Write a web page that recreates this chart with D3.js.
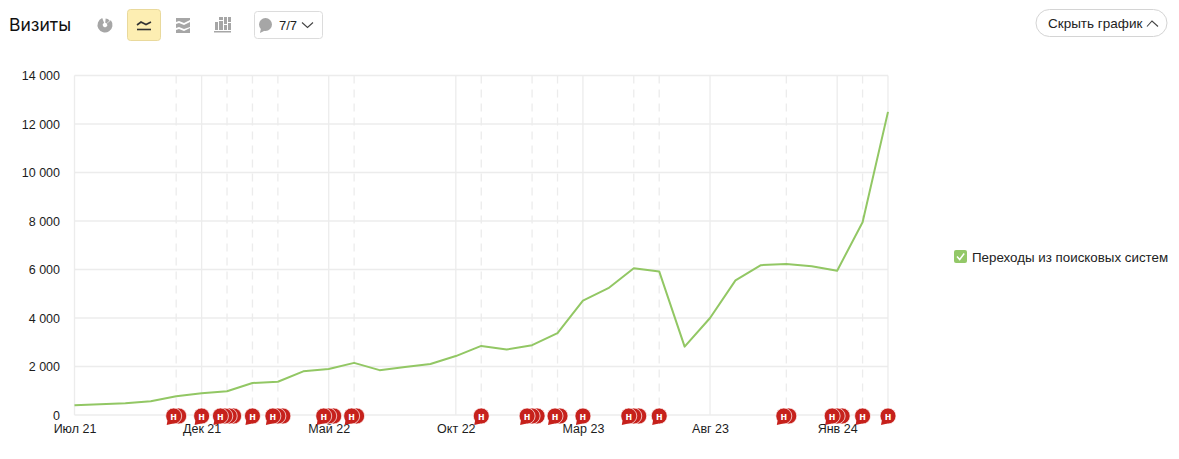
<!DOCTYPE html>
<html>
<head>
<meta charset="utf-8">
<script src="https://cdn.jsdelivr.net/npm/d3@7"></script>
<style>
  html, body { margin: 0; padding: 0; background: #fff; }
  svg { display: block; font-family: "Liberation Sans", Arial, sans-serif; }
  .axis .domain { display: none; }
  .axis text { font-size: 12.5px; fill: #1c1c1c; }
</style>
</head>
<body>
<svg id="chart" width="1179" height="459"></svg>
<script>
// monthly data, Jul 21 .. Mar 24
const months = ["Июл 21","Авг 21","Сен 21","Окт 21","Ноя 21","Дек 21","Янв 22","Фев 22","Мар 22","Апр 22","Май 22",
  "Июн 22","Июл 22","Авг 22","Сен 22","Окт 22","Ноя 22","Дек 22","Янв 23","Фев 23","Мар 23","Апр 23","Май 23",
  "Июн 23","Июл 23","Авг 23","Сен 23","Окт 23","Ноя 23","Дек 23","Янв 24","Фев 24","Мар 24"];
const visits = [400,440,480,570,770,900,980,1320,1370,1800,1900,2150,1850,1980,2100,2430,2850,2700,2880,3380,
  4720,5230,6050,5920,2820,4000,5550,6180,6230,6130,5950,7950,12500];
const yTicks = [0,2000,4000,6000,8000,10000,12000,14000];
const xLabels = ["Июл 21","Дек 21","Май 22","Окт 22","Мар 23","Авг 23","Янв 24"];

// notes: month label and how many bubbles are stacked there
const noteMonths = ["Ноя 21","Дек 21","Янв 22","Фев 22","Мар 22","Май 22","Июн 22","Ноя 22","Янв 23","Фев 23",
  "Мар 23","Май 23","Июн 23","Ноя 23","Янв 24","Фев 24","Мар 24"];
const noteCounts = [2,1,4,1,3,3,2,1,3,2,1,3,1,2,3,1,1];

const svg = d3.select("#chart");
const left = 74.5, right = 888, top_ = 75.5, bottom = 415;

const x = d3.scalePoint().domain(months).range([left, right]);
const y = d3.scaleLinear().domain([0, 14000]).range([bottom, top_]);
const fmt = d3.formatLocale({decimal: ",", thousands: " ", grouping: [3], currency: ["", ""]}).format(",d");
const gridColor = "#ececec";

// horizontal grid
svg.append("g").selectAll("line").data(yTicks).enter().append("line")
  .attr("x1", left).attr("x2", right)
  .attr("y1", d => y(d)).attr("y2", d => y(d))
  .attr("stroke", gridColor).attr("stroke-width", 1.3);

// vertical grid: solid for labelled months and the edges, dashed for months with notes
const solid = xLabels.concat([months[months.length - 1]]);
svg.append("g").selectAll("line").data(solid).enter().append("line")
  .attr("x1", d => x(d)).attr("x2", d => x(d))
  .attr("y1", top_).attr("y2", bottom)
  .attr("stroke", gridColor).attr("stroke-width", 1.3);
svg.append("g").selectAll("line").data(noteMonths.filter(m => !solid.includes(m))).enter().append("line")
  .attr("x1", d => x(d)).attr("x2", d => x(d))
  .attr("y1", top_).attr("y2", bottom)
  .attr("stroke", gridColor).attr("stroke-width", 1.3).attr("stroke-dasharray", "8,6");

// axes
svg.append("g").attr("class", "axis")
  .attr("transform", `translate(${left - 14.5},0)`)
  .call(d3.axisLeft(y).tickValues(yTicks).tickSize(0).tickPadding(0).tickFormat(fmt));
svg.append("g").attr("class", "axis")
  .attr("transform", `translate(0,${bottom + 9})`)
  .call(d3.axisBottom(x).tickValues(xLabels).tickSize(0).tickPadding(0));

// series
svg.append("path").datum(visits)
  .attr("fill", "none").attr("stroke", "#92c764").attr("stroke-width", 2)
  .attr("stroke-linejoin", "round")
  .attr("d", d3.line().x((d, i) => x(months[i])).y(d => y(d)));

// note bubbles
const step = n => n > 3 ? 4.4 : 5;
noteMonths.forEach((m, i) => {
  const n = noteCounts[i];
  const cx0 = x(m) - (n - 1) * step(n) / 2;
  const g = svg.append("g");
  d3.range(n).reverse().forEach(k => {
    const b = g.append("g").attr("transform", `translate(${cx0 + k * step(n)},${bottom + 1})`);
    b.append("circle").attr("r", 8).attr("fill", "#c6211c").attr("stroke", "#fff").attr("stroke-width", 0.7);
    if (k === 0) {
      b.append("path").attr("d", "M-6,3.5 L-7,9 L-0.5,7.5 Z").attr("fill", "#c6211c");
      b.append("text").attr("text-anchor", "middle").attr("y", 3.8)
        .attr("font-size", 11).attr("font-weight", "bold").attr("fill", "#fff").text("н");
    }
  });
});

// header
svg.append("text").attr("x", 9).attr("y", 31).attr("font-family", "Inter, Roboto, sans-serif")
  .attr("font-size", 17.5).attr("fill", "#111").text("Визиты");

// pie icon
const pie = svg.append("g").attr("transform", "translate(105,25)").attr("fill", "#a6a6a6");
pie.append("path").attr("d", d3.arc().innerRadius(2.2).outerRadius(7.5).startAngle(0.9).endAngle(5.9)());
pie.append("path").attr("d", d3.arc().innerRadius(2.2).outerRadius(6.5).startAngle(0.1).endAngle(0.8)());

// selected line button
svg.append("rect").attr("x", 127.5).attr("y", 9.5).attr("width", 33).attr("height", 31).attr("rx", 3)
  .attr("fill", "#fdeeb2").attr("stroke", "#e9d99c");
svg.append("path").attr("d", "M137,25 L141,22 L146,24.5 L151,22").attr("fill", "none").attr("stroke", "#333").attr("stroke-width", 1.6);
svg.append("path").attr("d", "M137,29.5 H151").attr("stroke", "#333").attr("stroke-width", 1.6);

// stacked icon
svg.append("path").attr("d", "M176,18 H190 V20 L184,23 L179,21 L176,22 Z M176,24 L179,23 L184,25 L190,22 V27 L184,29 L179,27 L176,28 Z M176,30 L179,29 L184,31 L190,28 V33 H176 Z")
  .attr("fill", "#a6a6a6");

// bars icon
const barsIcon = svg.append("g").attr("fill", "#a6a6a6");
[[215,22,3,8],[219,17,4,3],[219,21,4,9],[224,17,3,7],[224,25,3,5],[228,17,3,5],[228,23,3,7]].forEach(r =>
  barsIcon.append("rect").attr("x", r[0]).attr("y", r[1]).attr("width", r[2]).attr("height", r[3]));
barsIcon.append("rect").attr("x", 214).attr("y", 31).attr("width", 17).attr("height", 1.5);

// notes dropdown
svg.append("rect").attr("x", 254.5).attr("y", 11.5).attr("width", 68).attr("height", 27).attr("rx", 3)
  .attr("fill", "#fff").attr("stroke", "#dcdcdc");
svg.append("circle").attr("cx", 265.5).attr("cy", 24.5).attr("r", 6.5).attr("fill", "#a6a6a6");
svg.append("path").attr("d", "M261,28 L260,33 L266,30 Z").attr("fill", "#a6a6a6");
svg.append("text").attr("x", 279).attr("y", 29.5).attr("font-size", 13).attr("fill", "#222").text("7/7");
svg.append("path").attr("d", "M302,22.5 L307.5,27.5 L313,22.5").attr("fill", "none").attr("stroke", "#444").attr("stroke-width", 1.1);

// hide button
svg.append("rect").attr("x", 1036).attr("y", 9.5).attr("width", 131).attr("height", 27).attr("rx", 13.5)
  .attr("fill", "#fff").attr("stroke", "#d4d4d4");
svg.append("text").attr("x", 1048).attr("y", 27.5).attr("font-size", 13.5).attr("fill", "#222").text("Скрыть график");
svg.append("path").attr("d", "M1147,26.5 L1152,21 L1158,26.5").attr("fill", "none").attr("stroke", "#444").attr("stroke-width", 1.1);

// legend
svg.append("rect").attr("x", 954).attr("y", 250).attr("width", 13).attr("height", 13).attr("rx", 2).attr("fill", "#93c868");
svg.append("path").attr("d", "M957,256.5 L959.7,259.5 L964.2,253.5").attr("fill", "none").attr("stroke", "#fff").attr("stroke-width", 1.5);
svg.append("text").attr("x", 972).attr("y", 262).attr("font-size", 13.35).attr("fill", "#222").text("Переходы из поисковых систем");
</script>
</body>
</html>
